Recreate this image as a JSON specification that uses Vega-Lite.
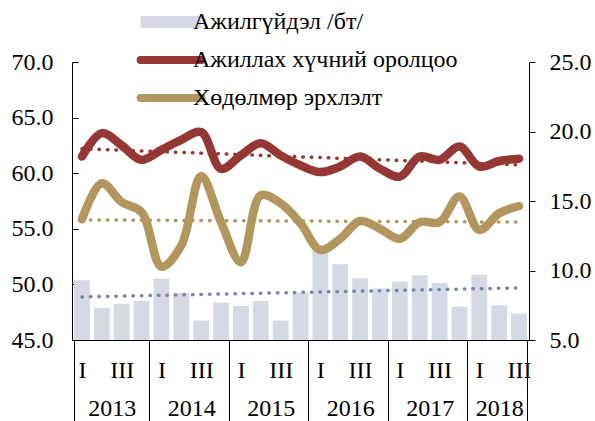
{
  "$schema": "https://vega.github.io/schema/vega-lite/v6.json",
  "width": 457,
  "height": 278,
  "autosize": {"type": "none"},
  "padding": {"left": 72, "top": 62, "right": 66, "bottom": 81},
  "background": "white",
  "config": {
    "view": {"stroke": null},
    "font": "Liberation Serif",
    "axis": {"grid": false, "domainColor": "black", "tickColor": "black", "labelColor": "black", "labelFont": "Liberation Serif", "labelFontSize": 24, "title": null, "domainWidth": 1, "tickWidth": 1}
  },
  "datasets": {
    "q": [
      {"p": "2013-1", "unemp": 9.3, "lfp": 61.5, "emp": 55.85},
      {"p": "2013-2", "unemp": 7.3, "lfp": 63.6, "emp": 59.1},
      {"p": "2013-3", "unemp": 7.6, "lfp": 62.5, "emp": 57.4},
      {"p": "2013-4", "unemp": 7.8, "lfp": 61.2, "emp": 56.5},
      {"p": "2014-1", "unemp": 9.4, "lfp": 62.1, "emp": 51.6},
      {"p": "2014-2", "unemp": 8.4, "lfp": 63.0, "emp": 53.5},
      {"p": "2014-3", "unemp": 6.4, "lfp": 63.7, "emp": 59.75},
      {"p": "2014-4", "unemp": 7.7, "lfp": 60.4, "emp": 55.6},
      {"p": "2015-1", "unemp": 7.45, "lfp": 61.6, "emp": 52.0},
      {"p": "2015-2", "unemp": 7.8, "lfp": 62.7, "emp": 58.0},
      {"p": "2015-3", "unemp": 6.4, "lfp": 61.6, "emp": 57.3},
      {"p": "2015-4", "unemp": 8.4, "lfp": 60.7, "emp": 55.5},
      {"p": "2016-1", "unemp": 11.7, "lfp": 60.1, "emp": 53.1},
      {"p": "2016-2", "unemp": 10.45, "lfp": 60.6, "emp": 54.1},
      {"p": "2016-3", "unemp": 9.45, "lfp": 61.5, "emp": 55.7},
      {"p": "2016-4", "unemp": 8.7, "lfp": 60.4, "emp": 55.0},
      {"p": "2017-1", "unemp": 9.2, "lfp": 59.7, "emp": 54.1},
      {"p": "2017-2", "unemp": 9.65, "lfp": 61.5, "emp": 55.6},
      {"p": "2017-3", "unemp": 9.1, "lfp": 61.2, "emp": 55.6},
      {"p": "2017-4", "unemp": 7.4, "lfp": 62.4, "emp": 57.9},
      {"p": "2018-1", "unemp": 9.7, "lfp": 60.6, "emp": 54.9},
      {"p": "2018-2", "unemp": 7.5, "lfp": 61.1, "emp": 56.4},
      {"p": "2018-3", "unemp": 6.9, "lfp": 61.3, "emp": 57.05}
    ],
    "trend": [
      {"s": "unemp", "p": "2013-1", "v": 8.1},
      {"s": "unemp", "p": "2018-3", "v": 8.75},
      {"s": "lfp", "p": "2013-1", "v": 62.2},
      {"s": "lfp", "p": "2018-3", "v": 60.75},
      {"s": "emp", "p": "2013-1", "v": 55.8},
      {"s": "emp", "p": "2018-3", "v": 55.6}
    ]
  },
  "encoding": {
    "x": {
      "field": "p",
      "type": "ordinal",
      "scale": {"paddingInner": 0.2, "paddingOuter": 0.1},
      "axis": {
        "ticks": true,
        "tickBand": "extent",
        "tickSize": {"condition": {"test": "!datum.value || slice(''+datum.value,-1)=='4' || datum.value=='2018-3'", "value": 81}, "value": 0},
        "labelPadding": {"condition": {"test": "datum.value=='2018-3'", "value": -63}, "value": 18},
        "labelOffset": {"condition": {"test": "slice(''+datum.value,-1)=='2' && slice(''+datum.value,0,4)!='2018'", "value": 10}, "value": 0},
        "labelBaseline": "top",
        "labelAngle": 0,
        "labelAlign": "center",
        "labelLineHeight": 38,
        "labelExpr": "slice(''+datum.value,-1)=='1' ? 'I' : slice(''+datum.value,-1)=='3' ? 'III' : slice(''+datum.value,-1)=='2' ? ['', slice(''+datum.value,0,4)] : ''",
        "labelOverlap": false,
        "labelBound": false,
        "labelFlush": false
      }
    }
  },
  "layer": [
    {
      "layer": [
        {
          "data": {"name": "q"},
          "mark": {"type": "bar", "clip": true},
          "encoding": {
            "y": {
              "field": "unemp",
              "type": "quantitative",
              "scale": {"domain": [5, 25], "nice": false, "zero": false},
              "axis": {"orient": "right", "values": [5, 10, 15, 20, 25], "format": ".1f", "tickSize": 6, "labelPadding": 14}
            },
            "color": {
              "datum": "unemp",
              "type": "nominal",
              "title": null,
              "scale": {"domain": ["unemp", "lfp", "emp"], "range": ["#d5d9e3", "#953735", "#b3965e"]},
              "legend": {
                "orient": "none",
                "legendX": 87,
                "legendY": -52,
                "direction": "vertical",
                "title": null,
                "gridAlign": "all",
                "symbolType": "stroke",
                "symbolSize": 3700,
                "labelFont": "Liberation Serif, DejaVu Serif, serif",
                "labelFontSize": 24,
                "labelLimit": 500,
                "labelColor": "black",
                "labelOffset": 10,
                "padding": 0,
                "rowPadding": -2,
                "labelExpr": "datum.label=='unemp' ? 'Ажилгүйдэл /бт/' : datum.label=='lfp' ? 'Ажиллах хүчний оролцоо' : 'Хөдөлмөр эрхлэлт'",
                "encode": {
                  "symbols": {
                    "update": {
                      "stroke": {"signal": "datum.value=='unemp' ? '#d5d9e3' : datum.value=='lfp' ? '#953735' : '#b3965e'"},
                      "strokeWidth": {"signal": "datum.value=='unemp' ? 12 : 8"},
                      "strokeCap": {"signal": "datum.value=='unemp' ? 'butt' : 'round'"},
                      "fill": {"value": "transparent"},
                      "opacity": {"value": 1}
                    }
                  }
                }
              }
            }
          }
        },
        {
          "data": {"name": "trend"},
          "transform": [{"filter": "datum.s=='unemp'"}],
          "mark": {"type": "line", "color": "#7787b3", "strokeWidth": 3.5, "strokeCap": "round", "strokeDash": [0.5, 8]},
          "encoding": {"y": {"field": "v", "type": "quantitative"}}
        }
      ]
    },
    {
      "layer": [
        {
          "data": {"name": "q"},
          "transform": [{"fold": ["lfp", "emp"], "as": ["key", "val"]}],
          "mark": {"type": "line", "interpolate": "catmull-rom", "strokeWidth": 8.5, "strokeCap": "round", "strokeJoin": "round"},
          "encoding": {
            "y": {
              "field": "val",
              "type": "quantitative",
              "scale": {"domain": [45, 70], "nice": false, "zero": false},
              "axis": {"orient": "left", "values": [45, 50, 55, 60, 65, 70], "format": ".1f", "tickSize": -6, "labelPadding": 25}
            },
            "color": {"field": "key", "type": "nominal", "title": null}
          }
        },
        {
          "data": {"name": "trend"},
          "transform": [{"filter": "datum.s=='lfp'"}],
          "mark": {"type": "line", "color": "#953735", "strokeWidth": 3.5, "strokeCap": "round", "strokeDash": [0.5, 8]},
          "encoding": {"y": {"field": "v", "type": "quantitative"}}
        },
        {
          "data": {"name": "trend"},
          "transform": [{"filter": "datum.s=='emp'"}],
          "mark": {"type": "line", "color": "#b3965e", "strokeWidth": 3.5, "strokeCap": "round", "strokeDash": [0.5, 8]},
          "encoding": {"y": {"field": "v", "type": "quantitative"}}
        }
      ]
    }
  ],
  "resolve": {"scale": {"y": "independent"}}
}
